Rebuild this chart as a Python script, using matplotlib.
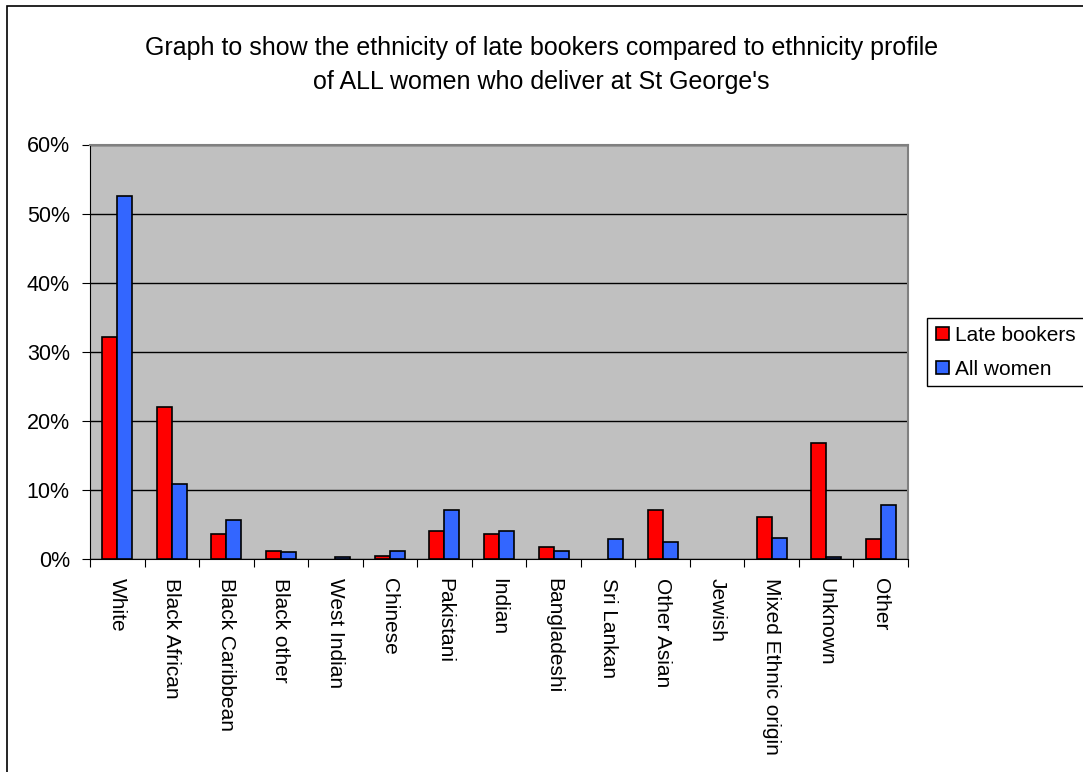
import matplotlib.pyplot as plt
import numpy as np
from matplotlib.patches import Rectangle

plt.rcParams['font.family'] = ['Liberation Sans', 'DejaVu Sans']

# 数据：各族裔占比(%)
categories = ['White', 'Black African', 'Black Caribbean', 'Black other', 'West Indian',
              'Chinese', 'Pakistani', 'Indian', 'Bangladeshi', 'Sri Lankan',
              'Other Asian', 'Jewish', 'Mixed Ethnic origin', 'Unknown', 'Other']
late_bookers = [32.1, 22.0, 3.6, 1.2, 0.0, 0.5, 4.0, 3.6, 1.7, 0.0, 7.05, 0.0, 6.1, 16.8, 2.85]
all_women = [52.5, 10.8, 5.65, 0.95, 0.25, 1.2, 7.05, 4.0, 1.2, 2.85, 2.4, 0.0, 3.05, 0.25, 7.8]
yticks = [0, 10, 20, 30, 40, 50, 60]

W, H = 1083, 772
fig = plt.figure(figsize=(W / 100, H / 100), dpi=100)

# 外框（超出画布右侧和底部）
fig.patches.append(Rectangle((7 / W, -0.1), 1.2, 1 - 6 / H + 0.1, transform=fig.transFigure,
                             fill=False, edgecolor='black', linewidth=1.2))

ax = fig.add_axes([90 / W, 1 - 559 / H, (908 - 90) / W, (559 - 144.5) / H])
ax.set_facecolor('#c0c0c0')

x = np.arange(len(categories))
width = 0.275
# 值为0的柱子不画边框
lw_late = [1.2 if v > 0 else 0 for v in late_bookers]
lw_all = [1.2 if v > 0 else 0 for v in all_women]
ax.bar(x - width / 2, late_bookers, width, color='#ff0000', edgecolor='black', linewidth=lw_late,
       label='Late bookers', zorder=3)
ax.bar(x + width / 2, all_women, width, color='#3366ff', edgecolor='black', linewidth=lw_all,
       label='All women', zorder=3)

ax.set_xlim(-0.5, len(categories) - 0.5)
ax.set_ylim(0, 60)
ax.set_yticks(yticks)
ax.set_yticklabels([f'{v}%' for v in yticks], fontsize=15.5)
ax.yaxis.grid(True, color='black', linewidth=1, zorder=1)

# x 轴刻度在类别之间
ax.set_xticks(np.arange(len(categories) + 1) - 0.5)
ax.set_xticklabels([])
ax.set_xticks(x, minor=True)
ax.set_xticklabels(categories, minor=True, rotation=-90, fontsize=15, va='top', ha='center')
ax.tick_params(axis='x', which='minor', length=0, pad=14)
ax.tick_params(axis='x', which='major', length=6, direction='out', color='black')
ax.tick_params(axis='y', length=6, direction='out', pad=8.5)

for side in ['top', 'right']:
    ax.spines[side].set_color('#808080')
    ax.spines[side].set_linewidth(1.5)
ax.spines['left'].set_color('black')
ax.spines['bottom'].set_color('black')

fig.text(0.5, 1 - 48 / H, 'Graph to show the ethnicity of late bookers compared to ethnicity profile',
         ha='center', va='center', fontsize=18)
fig.text(0.5, 1 - 82 / H, "of ALL women who deliver at St George's",
         ha='center', va='center', fontsize=18)

# 图例框延伸到画布右侧之外
legend_box = Rectangle((927 / W, 1 - 386 / H), 0.2, 68 / H, transform=fig.transFigure,
                       facecolor='white', edgecolor='black', linewidth=1, zorder=1)
fig.patches.append(legend_box)
handles, labels = ax.get_legend_handles_labels()
leg = fig.legend(handles, labels, loc='upper left', bbox_to_anchor=(932 / W, 1 - 322 / H),
                 fontsize=15, frameon=False,
                 borderaxespad=0, handlelength=0.6, handleheight=0.6, handletextpad=0.3,
                 labelspacing=0.7, borderpad=0.2)
leg.set_zorder(5)

fig.savefig('out.png', dpi=100)
